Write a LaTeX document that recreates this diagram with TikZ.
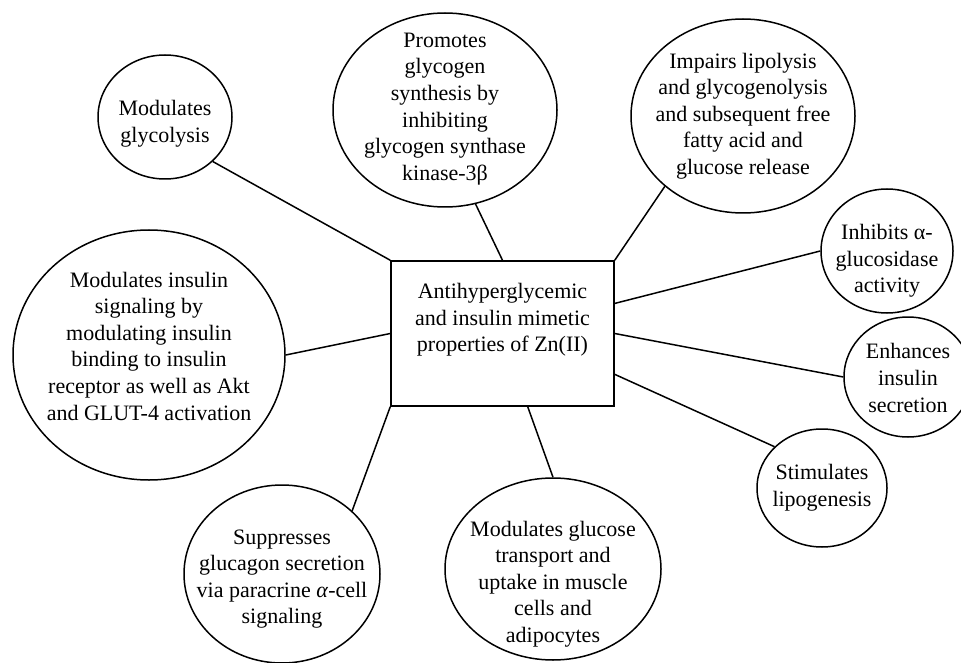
\documentclass[tikz,border=0pt]{standalone}
\usepackage{fontspec}
\setmainfont{Liberation Serif}
\usetikzlibrary{shapes.geometric}
\begin{document}
\begin{tikzpicture}[x=1pt,y=-1pt,
  bubble/.style={draw, ellipse, line width=1.5pt, inner sep=0pt},
  btext/.style={align=center, inner sep=0pt, font=\fontsize{22}{26.6}\selectfont},
  centerbox/.style={draw, rectangle, line width=1.5pt, inner sep=0pt},
  link/.style={line width=1.5pt}]
\clip (0,0) rectangle (961,663);
\fill[white] (0,0) rectangle (961,663);

\node[centerbox, minimum width=223pt, minimum height=145pt] (zn) at (502.5,333.5) {};
\node[btext] (zntext) at (502.5,320) {Antihyperglycemic\\and insulin mimetic\\properties of Zn(II)};

\node[bubble, minimum width=134pt, minimum height=124pt] (glyc) at (165,117) {};
\node[btext] (glyct) at ([yshift=-7pt]glyc.center) {Modulates\\glycolysis};

\node[bubble, minimum width=224pt, minimum height=194pt] (prom) at (445,110) {};
\node[btext] (promt) at ([yshift=1pt]prom.center) {Promotes\\glycogen\\synthesis by\\inhibiting\\glycogen synthase\\kinase-3β};

\node[bubble, minimum width=224pt, minimum height=194pt] (imp) at (743,116) {};
\node[btext] (impt) at (imp.center) {Impairs lipolysis\\and glycogenolysis\\and subsequent free\\fatty acid and\\glucose release};

\node[bubble, minimum width=132pt, minimum height=124pt] (inh) at (887,251) {};
\node[btext] (inht) at ([yshift=-10pt]inh.center) {Inhibits α-\\glucosidase\\activity};

\node[bubble, minimum width=128pt, minimum height=120pt] (enh) at (908,377) {};
\node[btext] (enht) at ([yshift=-1pt]enh.center) {Enhances\\insulin\\secretion};

\node[bubble, minimum width=130pt, minimum height=118pt] (stim) at (822,488) {};
\node[btext] (stimt) at (stim.center) {Stimulates\\lipogenesis};

\node[bubble, minimum width=216pt, minimum height=182pt] (gluc) at (553,569) {};
\node[btext] (gluct) at ([yshift=-15pt]gluc.center) {Modulates glucose\\transport and\\uptake in muscle\\cells and\\adipocytes};

\node[bubble, minimum width=196pt, minimum height=178pt] (supp) at (282,574) {};
\node[btext] (suppt) at ([yshift=-5pt]supp.center) {Suppresses\\glucagon secretion\\via paracrine \textit{α}-cell\\signaling};

\node[bubble, minimum width=272pt, minimum height=250pt] (ins) at (149,355) {};
\node[btext] (inst) at ([yshift=9pt]ins.center) {Modulates insulin\\signaling by\\modulating insulin\\binding to insulin\\receptor as well as Akt\\and GLUT-4 activation};

\draw[link] (glyc.-43) -- (zn.north west);
\draw[link] (prom.-72) -- (zn.north);
\draw[link] (imp.-138) -- (zn.north east);
\draw[link] (inh.180) -- (zn.15.4);
\draw[link] (enh.180) -- (zn.east);
\draw[link] (stim.139) -- (zn.-20.5);
\draw[link] (gluc.90) -- (zn.-71.4);
\draw[link] (supp.42) -- (zn.south west);
\draw[link] (ins.0) -- (zn.west);
\end{tikzpicture}
\end{document}
